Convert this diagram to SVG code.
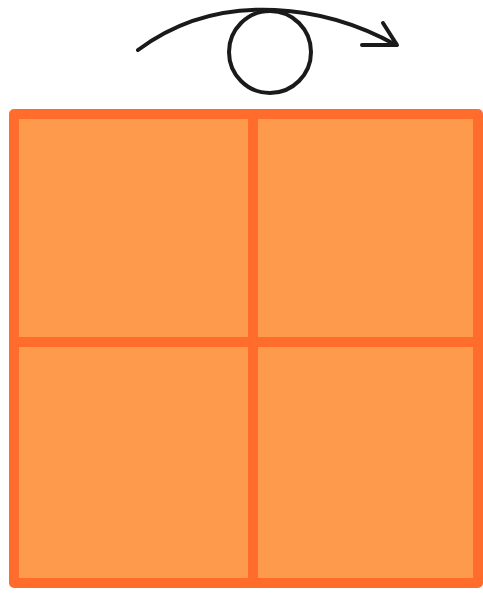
<svg xmlns="http://www.w3.org/2000/svg" width="483" height="594" viewBox="0 0 483 594">
<style>
.cell{fill:#FE9A4C;stroke:#FF6C2C;stroke-width:10;stroke-linejoin:round}
.ink{fill:none;stroke:#1a1a1a;stroke-width:4;stroke-linecap:round;stroke-linejoin:round}
</style>
<rect width="483" height="594" fill="#ffffff"/>
<g id="grid">
<rect class="cell" x="14" y="114" width="464" height="469"/>
<line x1="253" y1="114" x2="253" y2="583" stroke="#FF6C2C" stroke-width="10"/>
<line x1="14" y1="342" x2="478" y2="342" stroke="#FF6C2C" stroke-width="10"/>
</g>
<g id="rotation">
<circle class="ink" cx="270" cy="52" r="41"/>
<path class="ink" d="M138,50 C185,15 235,8 275,10 C320,12 360,25 396,45"/>
<path class="ink" d="M383,23 L397,45 L362,45"/>
</g>
</svg>
